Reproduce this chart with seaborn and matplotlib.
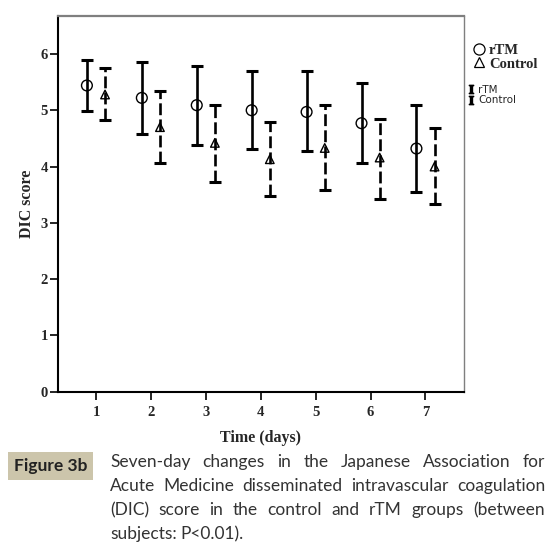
import numpy as np
import pandas as pd
import seaborn as sns
import matplotlib.pyplot as plt
from matplotlib.lines import Line2D
from matplotlib.patches import Rectangle

# mean and 95% CI
days = [1, 2, 3, 4, 5, 6, 7]
rtm_mean = [5.44, 5.22, 5.09, 5.00, 4.97, 4.77, 4.32]
rtm_low = [4.98, 4.58, 4.39, 4.31, 4.27, 4.06, 3.55]
rtm_high = [5.90, 5.86, 5.78, 5.70, 5.69, 5.48, 5.09]
ctl_mean = [5.28, 4.70, 4.42, 4.13, 4.33, 4.16, 4.00]
ctl_low = [4.83, 4.07, 3.72, 3.47, 3.59, 3.42, 3.33]
ctl_high = [5.75, 5.35, 5.10, 4.80, 5.09, 4.85, 4.69]
groups = ["rTM", "Control"]

caption_lines = [
    "Seven-day changes in the Japanese Association for",
    "Acute Medicine disseminated intravascular coagulation",
    "(DIC) score in the control and rTM groups (between",
    "subjects: P<0.01).",
]

sns.set_style("white")
plt.rcParams["mathtext.fontset"] = "stix"
serif = "Liberation Serif"

fig = plt.figure(figsize=(5.51, 5.56), dpi=100)
ax = fig.add_axes([0.1044, 0.2955, 0.7376, 0.6763])

offset = 0.165
df = pd.DataFrame({
    "day": days * 2,
    "mean": rtm_mean + ctl_mean,
    "low": rtm_low + ctl_low,
    "high": rtm_high + ctl_high,
    "group": [groups[0]] * 7 + [groups[1]] * 7,
})
df["x"] = df["day"] + np.where(df["group"] == "rTM", -offset, offset)

# error bars, solid for rTM and dashed for control
for g, ls in [("rTM", "-"), ("Control", (0, (4.5, 1.6)))]:
    sub = df[df["group"] == g]
    eb = ax.errorbar(sub["x"], sub["mean"],
                     yerr=[sub["mean"] - sub["low"], sub["high"] - sub["mean"]],
                     fmt="none", ecolor="black", elinewidth=1.9,
                     capsize=4.0, capthick=2.2, zorder=2)
    eb[2][0].set_linestyle(ls)

# open markers for the means
for g, m, sz in [("rTM", "o", 60), ("Control", "^", 38)]:
    sns.scatterplot(data=df[df["group"] == g], x="x", y="mean", marker=m, s=sz,
                    facecolor="none", edgecolor="black", linewidth=1.0,
                    ax=ax, legend=False, zorder=3)

ax.set_xlim(0.3, 7.7)
ax.set_ylim(0, 6.68)
ax.set_xticks(days)
ax.set_yticks(range(0, 7))
ax.tick_params(axis="both", direction="out", length=6, width=1.2, color="black",
               labelsize=10.5, pad=1, bottom=True, left=True)
for lab in ax.get_xticklabels() + ax.get_yticklabels():
    lab.set_fontfamily(serif)
    lab.set_fontweight("bold")
ax.tick_params(axis="x", pad=4)

for side in ["left", "bottom"]:
    ax.spines[side].set_color("black")
    ax.spines[side].set_linewidth(1.5)
ax.spines["top"].set_color("#7f7f7f")
ax.spines["top"].set_linewidth(1.6)
ax.spines["right"].set_color("#7f7f7f")
ax.spines["right"].set_linewidth(1.0)

ax.set_xlabel("Time (days)", fontfamily=serif, fontweight="bold", fontsize=11.5, labelpad=8)
ax.set_ylabel("DIC score", fontfamily=serif, fontweight="bold", fontsize=11.5, labelpad=4)

# legends
h1 = [Line2D([], [], marker="o", ls="none", mfc="none", mec="black", ms=8, mew=0.9),
      Line2D([], [], marker="^", ls="none", mfc="none", mec="black", ms=6.5, mew=0.9)]
leg1 = fig.legend(h1, groups, loc="upper left", bbox_to_anchor=(0.845, 0.935),
                  frameon=False, handlelength=0.8, handletextpad=0.3, labelspacing=0.05,
                  borderpad=0, prop={"family": serif, "weight": "bold", "size": 10.5})
h2 = [Line2D([], [], marker=r"$\mathbf{I}$", ls="none", color="black", ms=6),
      Line2D([], [], marker=r"$\mathbf{I}$", ls="none", color="black", ms=6)]
leg2 = fig.legend(h2, groups, loc="upper left", bbox_to_anchor=(0.840, 0.857),
                  frameon=False, handlelength=0.6, handletextpad=0.4, labelspacing=0.05,
                  borderpad=0, prop={"family": "DejaVu Sans", "size": 7.5})

# caption
fig.patches.append(Rectangle((8 / 551, 1 - 480 / 556), 85 / 551, 28 / 556,
                             transform=fig.transFigure, facecolor="#ccc5ab",
                             edgecolor="none", zorder=0))
fig.text(50.5 / 551, 1 - 466 / 556, "Figure 3b", ha="center", va="center",
         family="Lato", weight="bold", fontsize=12.5, color="#222222")

renderer = fig.canvas.get_renderer()
x0, x1 = 110, 545
line_y = [462, 486, 510, 534]
for i, line in enumerate(caption_lines):
    words = line.split(" ")
    y = 1 - line_y[i] / 556
    texts = [fig.text(0, y, w, ha="left", va="center", family="Lato",
                      fontsize=12.5, color="#333333") for w in words]
    widths = [t.get_window_extent(renderer).width for t in texts]
    if i < len(caption_lines) - 1:
        gap = (x1 - x0 - sum(widths)) / (len(words) - 1)
    else:
        gap = 4.0
    x = x0
    for t, w in zip(texts, widths):
        t.set_x(x / 551)
        x += w + gap

fig.savefig("out.png", dpi=100)
